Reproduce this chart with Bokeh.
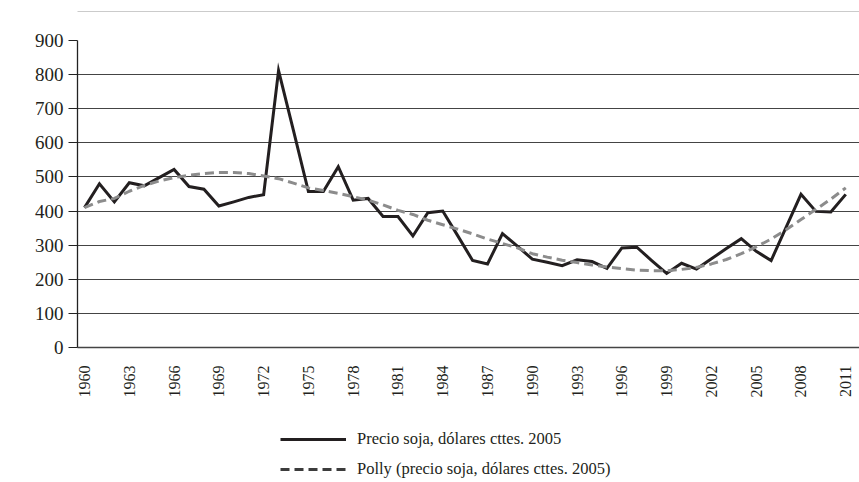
import math
from bokeh.plotting import figure
from bokeh.models import FixedTicker, Legend, LegendItem, Range1d
from bokeh.layouts import column
from bokeh.embed import file_html
from bokeh.resources import INLINE

years = list(range(1960, 2012))
precio = [410, 480, 427, 483, 474, 498, 522, 472, 464, 415,
          427, 440, 448, 812, 636, 457, 457, 530, 432, 437,
          384, 384, 327, 395, 400, 328, 255, 245, 334, 297,
          259, 250, 240, 257, 252, 232, 292, 294, 255, 217,
          247, 230, 260, 290, 319, 282, 255, 352, 449, 399,
          397, 449]
polly = [410, 428, 437, 458, 475, 488, 498, 505, 510, 513,
         513, 510, 503, 495, 482, 468, 460, 452, 442, 432,
         418, 402, 390, 373, 360, 347, 333, 318, 305, 292,
         275, 265, 256, 249, 242, 236, 231, 227, 225, 225,
         229, 235, 245, 258, 275, 295, 318, 345, 375, 405,
         435, 468]
x_ticks = list(range(1960, 2012, 3))
y_ticks = list(range(0, 1000, 100))
labels = ["Precio soja, dólares cttes. 2005",
          "Polly (precio soja, dólares cttes. 2005)"]

FONT = "Liberation Serif"
SOLID = dict(line_color="#231f20", line_width=3)
DASHED = dict(line_color="#8c8c8c", line_width=3, line_dash="9 5")
DASHED_KEY = dict(line_color="#3c3c3c", line_width=3, line_dash="9 5")

# --- thin rule at the very top -------------------------------------------
top = figure(width=859, height=12, output_backend="svg", toolbar_location=None,
             x_range=Range1d(0, 1), y_range=Range1d(0, 1),
             y_axis_location=None, min_border_left=7, min_border_right=0,
             min_border_top=0, min_border_bottom=0)
top.outline_line_color = None
top.grid.grid_line_color = None
top.xaxis.ticker = FixedTicker(ticks=[])
top.xaxis.axis_line_color = "#333333"
top.xaxis.axis_line_width = 1.3
top.xaxis.major_tick_out = 0
top.xaxis.major_label_text_font_size = "0px"
top.xaxis.major_label_standoff = 0

# --- main chart ----------------------------------------------------------
p = figure(width=859, height=388, output_backend="svg", toolbar_location=None,
           x_range=Range1d(1959.53, 2011.92), y_range=Range1d(0, 900),
           min_border_left=77, min_border_right=0, min_border_top=28,
           min_border_bottom=44)
p.outline_line_color = None

p.xgrid.grid_line_color = None
p.ygrid.ticker = FixedTicker(ticks=y_ticks)
p.ygrid.grid_line_color = "#444444"
p.ygrid.grid_line_width = 1

p.yaxis.ticker = FixedTicker(ticks=y_ticks)
p.yaxis.axis_line_color = "#222222"
p.yaxis.axis_line_width = 1.3
p.yaxis.major_tick_out = 9
p.yaxis.major_tick_in = 0
p.yaxis.major_tick_line_color = "#222222"
p.yaxis.minor_tick_line_color = None
p.yaxis.major_label_standoff = 5
p.yaxis.major_label_text_font = FONT
p.yaxis.major_label_text_font_size = "19px"
p.yaxis.major_label_text_color = "#231f20"

p.xaxis.ticker = FixedTicker(ticks=x_ticks)
p.xaxis.axis_line_color = "#444444"
p.xaxis.axis_line_width = 1.3
p.xaxis.major_tick_line_color = None
p.xaxis.minor_tick_line_color = None
p.xaxis.major_tick_out = 0
p.xaxis.major_tick_in = 0
p.xaxis.major_label_orientation = math.pi / 2
p.xaxis.major_label_standoff = 18
p.xaxis.major_label_text_font = FONT
p.xaxis.major_label_text_font_size = "16px"
p.xaxis.major_label_text_color = "#231f20"

p.line(years, precio, line_join="miter", **SOLID)
p.line(years, polly, **DASHED)

# --- legend strip (frame aligned with the main chart's frame) --------------
leg = figure(width=859, height=82, output_backend="svg", toolbar_location=None,
             x_range=Range1d(0, 1), y_range=Range1d(0, 1),
             x_axis_location=None, y_axis_location=None,
             min_border_left=77, min_border_right=0, min_border_top=0,
             min_border_bottom=0)
leg.outline_line_color = None
leg.grid.grid_line_color = None
# one-point renderers (outside the strip's ranges) that only style the keys
k1 = leg.line(x=years[:1], y=precio[:1], **SOLID)
k2 = leg.line(x=years[:1], y=polly[:1], **DASHED_KEY)
legend = Legend(items=[LegendItem(label=labels[0], renderers=[k1]),
                       LegendItem(label=labels[1], renderers=[k2])],
                orientation="vertical", location=(203, 3))
legend.glyph_width = 66
legend.glyph_height = 20
legend.spacing = 10
legend.label_standoff = 11
legend.label_height = 20
legend.label_text_font = FONT
legend.label_text_font_size = "16.5px"
legend.label_text_color = "#231f20"
legend.border_line_color = None
legend.background_fill_alpha = 0
legend.padding = 0
legend.margin = 0
leg.add_layout(legend, "center")

layout = column(top, p, leg, spacing=0)
open("out.html", "w").write(file_html(layout, INLINE))
